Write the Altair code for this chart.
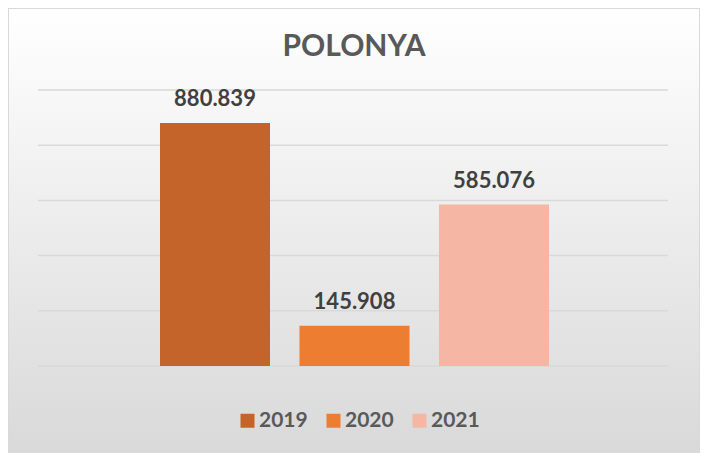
import altair as alt
import pandas as pd

years = ["2019", "2020", "2021"]
values = [880839, 145908, 585076]
labels = ["880.839", "145.908", "585.076"]
colors = ["#C4642A", "#ED7D31", "#F5B7A4"]
grid_values = [0, 200000, 400000, 600000, 800000, 1000000]
title_text = "POLONYA"

W, H = 692, 445
# pixel mapping: value 0 at y=358, 1,000,000 at y=82 (276 px per million)
ppm = 276.0
y_lo = -(H - 358) / ppm * 1e6
y_hi = 358 / ppm * 1e6

df = pd.DataFrame({"year": years, "value": values, "label": labels})
gdf = pd.DataFrame({"v": grid_values})

yscale = alt.Scale(domain=[y_lo, y_hi], nice=False, zero=False)
xscale = alt.Scale(domain=years, range=[152, 541], paddingInner=0.2115, paddingOuter=0)

bg = alt.Chart(pd.DataFrame({"a": [0]})).mark_rect(
    color=alt.Gradient(
        gradient="linear",
        stops=[alt.GradientStop(color="#ffffff", offset=0),
               alt.GradientStop(color="#d9d9d9", offset=1)],
        x1=0, x2=0, y1=0, y2=1,
    ),
    stroke="#d9d9d9", strokeWidth=2,
).encode(x=alt.value(0), x2=alt.value(W), y=alt.value(0), y2=alt.value(H))

grid = alt.Chart(gdf).mark_rule(color="#d9d9d9", strokeWidth=1.5).encode(
    y=alt.Y("v:Q", scale=yscale, axis=None),
    x=alt.value(30), x2=alt.value(660),
)

bars = alt.Chart(df).mark_bar().encode(
    x=alt.X("year:N", scale=xscale, axis=None),
    y=alt.Y("value:Q", scale=yscale, axis=None),
    y2=alt.datum(0),
    color=alt.Color("year:N", scale=alt.Scale(domain=years, range=colors),
                    legend=alt.Legend(
                        title=None, orient="none", legendX=229, legendY=402,
                        direction="horizontal", symbolType="square", symbolSize=196,
                        symbolStrokeWidth=0, symbolOpacity=1,
                        labelFont="Lato", labelFontSize=21, labelFontWeight="bold",
                        labelColor="#595959", labelOffset=1, columnPadding=15,
                    )),
)

text = alt.Chart(df).mark_text(
    font="Lato", fontSize=22, fontWeight="bold", color="#404040",
    baseline="alphabetic", dy=-17,
).encode(
    x=alt.X("year:N", scale=xscale, axis=None),
    y=alt.Y("value:Q", scale=yscale, axis=None),
    text="label:N",
)

title = alt.Chart(pd.DataFrame({"t": [title_text]})).mark_text(
    font="Lato", fontSize=30, fontWeight="bold", color="#595959", baseline="alphabetic",
).encode(x=alt.value(346), y=alt.value(48), text="t:N")

chart = alt.layer(bg, grid, bars, text, title).properties(
    width=W, height=H, padding=0, autosize=alt.AutoSizeParams(type="none"),
).configure_view(stroke=None).resolve_scale(y="shared")

chart.save("out.html", embed_options={"renderer": "svg", "actions": False})
